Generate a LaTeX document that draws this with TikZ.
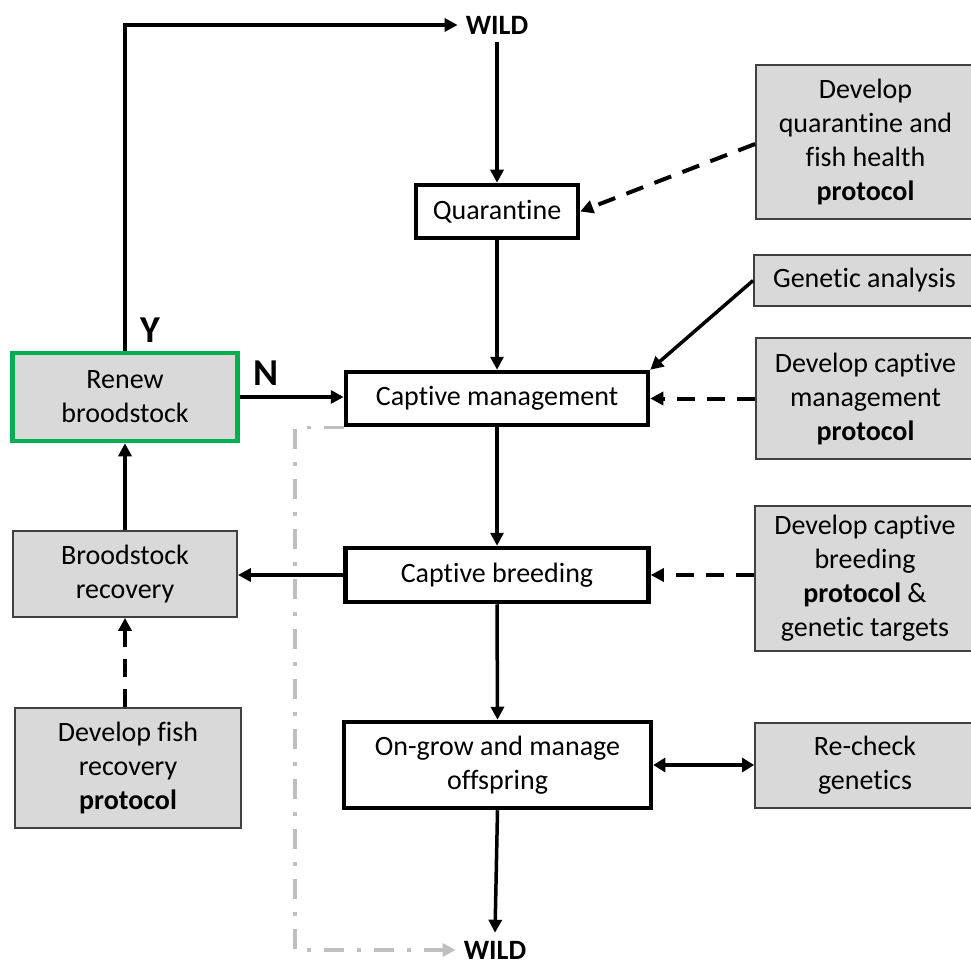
\documentclass[tikz,border=0pt]{standalone}
\usepackage{fontspec}
\setmainfont{Carlito}[Ligatures=NoCommon]
\usetikzlibrary{arrows.meta}
\definecolor{boxgray}{RGB}{217,217,217}
\definecolor{lgray}{RGB}{191,191,191}
\definecolor{grn}{RGB}{0,176,80}
\definecolor{edgegray}{RGB}{64,64,64}
\begin{document}
\begin{tikzpicture}[x=1pt,y=-1pt,
  font=\fontsize{28}{34}\selectfont,
  mainbox/.style={draw, line width=4.5pt, align=center, inner sep=0pt, fill=white},
  graybox/.style={draw=edgegray, line width=1.8pt, fill=boxgray, align=center, inner sep=0pt},
  greenbox/.style={draw=grn, line width=4.5pt, fill=boxgray, align=center, inner sep=0pt},
  arr/.style={line width=3.5pt, -{Triangle[length=13pt,width=13pt]}},
  darr/.style={line width=4pt, dash pattern=on 18pt off 12pt, -{Triangle[length=13pt,width=13pt]}},
  dblarr/.style={line width=4.5pt, {Triangle[length=12pt,width=14pt]}-{Triangle[length=12pt,width=14pt]}},
  grayarr/.style={line width=3.5pt, draw=lgray, dash pattern=on 20pt off 13pt on 4pt off 13pt, -{Triangle[length=13pt,width=13pt,fill=lgray]}},
  wildlbl/.style={font=\fontsize{28}{34}\selectfont\bfseries, inner sep=8pt},
  yn/.style={font=\fontsize{38}{44}\selectfont\bfseries, inner sep=0pt}
]
\useasboundingbox (0,0) rectangle (971,965);
\fill[white] (0,0) rectangle (971,965);
\clip (0,0) rectangle (971,965);

% main column
\node[wildlbl] (wildtop) at (497,25) {WILD};
\node[mainbox, minimum width=162pt, minimum height=53pt] (quar) at (497,211.5) {Quarantine};
\node[mainbox, minimum width=302pt, minimum height=53pt] (cm) at (497,398.5) {Captive management};
\node[mainbox, minimum width=303pt, minimum height=54pt] (cb) at (497,575) {Captive breeding};
\node[mainbox, minimum width=307pt, minimum height=86pt] (og) at (497.5,765) {On-grow and manage\\offspring};
\node[wildlbl] (wildbot) at (495,950) {WILD};

% left column
\node[greenbox, minimum width=225pt, minimum height=88pt] (renew) at (125,397) {Renew\\broodstock};
\node[graybox, minimum width=224pt, minimum height=86pt] (brec) at (125,574) {Broodstock\\recovery};
\node[graybox, minimum width=226pt, minimum height=120pt] (dfr) at (128,768) {Develop fish\\recovery\\\textbf{protocol}};
\node[yn, anchor=west] (ylbl) at (140,330) {Y};
\node[yn, anchor=west] (nlbl) at (253,373) {N};

% right column
\node[graybox, minimum width=219pt, minimum height=154pt] (dq) at (865.5,142) {Develop\\quarantine and\\fish health\\\textbf{protocol}};
\node[graybox, minimum width=221pt, minimum height=51pt] (ga) at (864.5,280.5) {Genetic analysis};
\node[graybox, minimum width=219pt, minimum height=121pt] (dcm) at (865.5,398.5) {Develop captive\\management\\\textbf{protocol}};
\node[graybox, minimum width=220pt, minimum height=145pt] (dcb) at (865,578.5) {Develop captive\\breeding\\\textbf{protocol} \&\\genetic targets};
\node[graybox, minimum width=220pt, minimum height=85pt] (rc) at (865,765.5) {Re-check\\genetics};

\coordinate (gx) at (295,0);

% connectors
\draw[arr] (wildtop.south) -- (quar.north);
\draw[arr] (quar.south) -- (cm.north);
\draw[arr] (cm.south) -- (cb.north);
\draw[arr] (cb.south) -- (og.north);
\draw[arr] (og.south) -- (wildbot.north);
\draw[arr] (renew.north) |- (wildtop.west);
\draw[arr] (renew.east) -- (renew.east -| cm.west);
\draw[arr] (brec.north) -- (renew.south);
\draw[arr] (cb.west) -- (cb.west -| brec.east);
\draw[darr] (dfr.north -| brec.south) -- (brec.south);
\draw[darr] ([yshift=-2pt]dq.west) -- (quar.east);
\draw[arr] (ga.west) -- (cm.north east);
\draw[darr] (cm.east -| dcm.west) -- (cm.east);
\draw[darr] (cb.east -| dcb.west) -- (cb.east);
\draw[dblarr] (og.east) -- (og.east -| rc.west);
\draw[grayarr] (cm.south west) -- (cm.south west -| gx) |- (wildbot.west);
\end{tikzpicture}
\end{document}
